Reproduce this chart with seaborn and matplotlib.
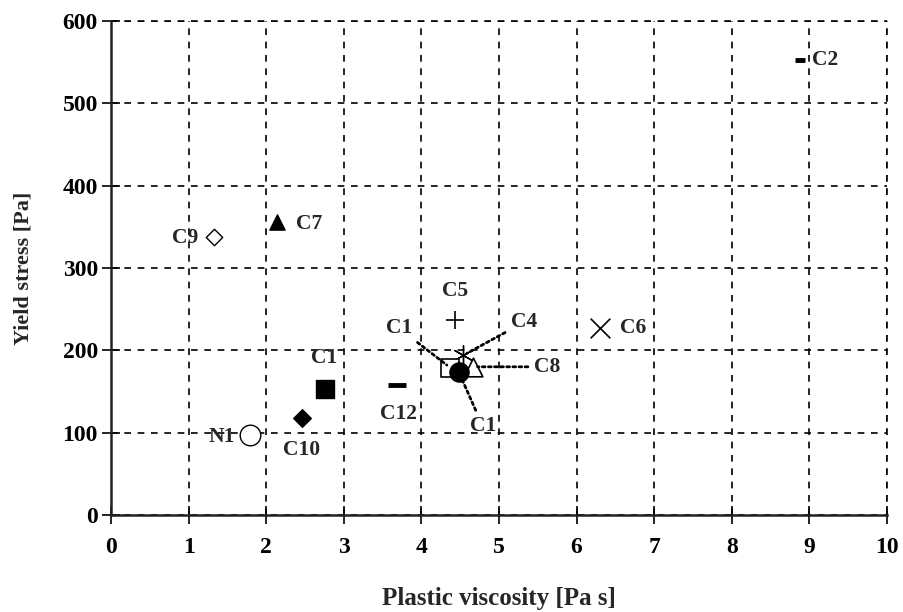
import matplotlib
matplotlib.use("Agg")
import matplotlib.pyplot as plt
import seaborn as sns
import pandas as pd

# Rheological parameters of the mixes
names = ["C2", "C7", "C9", "C5", "C4", "C8", "C1", "C1", "C12", "C6", "C1", "C10", "N1"]
plastic_viscosity = [8.88, 2.14, 1.33, 4.43, 4.54, 4.67, 4.37, 4.48, 3.69, 6.30, 2.76, 2.46, 1.79]
yield_stress = [553, 356, 338, 237, 194, 180, 179, 174, 158, 227, 153, 118, 97]

x_ticks = [0, 1, 2, 3, 4, 5, 6, 7, 8, 9, 10]
y_ticks = [0, 100, 200, 300, 400, 500, 600]

# marker, size, filled, marker edge width
styles = [
    ("_", 60, True, 3.5),
    ("^", 120, True, 1.0),
    ("D", 70, False, 1.0),
    ("+", 180, True, 1.2),
    ((6, 2, 0), 200, True, 1.0),
    ("^", 180, False, 1.2),
    ("s", 170, False, 1.2),
    ("o", 190, True, 1.0),
    ("_", 170, True, 3.5),
    ("x", 200, True, 1.2),
    ("s", 150, True, 1.0),
    ("D", 80, True, 1.0),
    ("o", 220, False, 1.0),
]

# label position, alignment, leader line
label_pos = [
    ((9.03, 553), "left", False),
    ((2.38, 353), "left", False),
    ((0.95, 336), "center", False),
    ((4.43, 272), "center", False),
    ((5.32, 234), "center", True),
    ((5.62, 180), "center", True),
    ((3.71, 227), "center", True),
    ((4.79, 108), "center", True),
    ((3.70, 123), "center", False),
    ((6.73, 227), "center", False),
    ((2.74, 191), "center", False),
    ((2.46, 79), "center", False),
    ((1.43, 95), "center", False),
]

df = pd.DataFrame({"visc": plastic_viscosity, "ys": yield_stress, "name": names})

sns.set_theme(style="white")
plt.rcParams["font.family"] = ["Liberation Serif", "DejaVu Serif"]
plt.rcParams["font.weight"] = "bold"

fig = plt.figure(figsize=(9.04, 6.12), dpi=100)
ax = fig.add_axes([0.1228, 0.1585, 0.8584, 0.8072])

for i, row in df.iterrows():
    mk, s, filled, lw = styles[i]
    open_mk = mk in ("D", "^", "s", "o") and not filled
    sns.scatterplot(
        x=[row.visc], y=[row.ys], marker=mk, s=s, ax=ax,
        color="black",
        facecolor="white" if open_mk else "black",
        edgecolor="black", linewidth=lw, zorder=4, legend=False,
    )

label_size = 15.5
for i, row in df.iterrows():
    (tx, ty), ha, leader = label_pos[i]
    if leader:
        ax.annotate(row["name"], xy=(row.visc, row.ys), xytext=(tx, ty),
                    ha=ha, va="center", fontsize=label_size, fontweight="bold",
                    arrowprops=dict(arrowstyle="-", linestyle=(0, (1, 1.2)),
                                    lw=2.0, color="black", shrinkA=2, shrinkB=3),
                    zorder=5)
    else:
        ax.text(tx, ty, row["name"], ha=ha, va="center", fontsize=label_size,
                fontweight="bold", zorder=5)

ax.set_xlim(0, 10)
ax.set_ylim(0, 600)
ax.set_xticks(x_ticks)
ax.set_yticks(y_ticks)
ax.set_xticklabels([str(t) for t in x_ticks], fontsize=17, fontweight="bold")
ax.set_yticklabels([str(t) for t in y_ticks], fontsize=17, fontweight="bold")
ax.tick_params(axis="both", direction="inout", length=13, width=1.2,
               colors="black", bottom=True, left=True)
ax.tick_params(axis="x", pad=9)
ax.tick_params(axis="y", pad=3)

dash = (0, (4, 4))
ax.grid(True, color="black", linestyle=dash, linewidth=1.2)
ax.set_axisbelow(True)

for side in ("top", "right"):
    ax.spines[side].set_visible(False)
for side in ("left", "bottom"):
    ax.spines[side].set_color("#222222")
    ax.spines[side].set_linewidth(1.8)

# dashed border at the top and right to close the grid
ax.axvline(10, color="black", linestyle=dash, linewidth=1.2, clip_on=False)
ax.axhline(600, color="black", linestyle=dash, linewidth=1.2, clip_on=False)

ax.set_xlabel("Plastic viscosity [Pa s]", fontsize=18, fontweight="bold", labelpad=21)
ax.set_ylabel("Yield stress [Pa]", fontsize=16, fontweight="bold", labelpad=21)

fig.savefig("out.png", dpi=100)
